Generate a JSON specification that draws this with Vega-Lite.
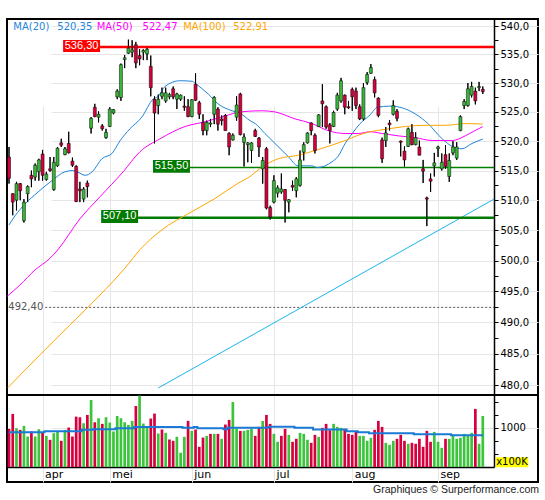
{
  "$schema": "https://vega.github.io/schema/vega-lite/v6.json",
  "width": 531,
  "height": 463,
  "autosize": "none",
  "padding": {"left": 7, "top": 19, "right": 7, "bottom": 18},
  "background": "white",
  "config": {
    "view": {"stroke": "black", "strokeWidth": 2},
    "font": "DejaVu Sans"
  },
  "title": {
    "text": "Graphiques © Surperformance.com",
    "orient": "bottom",
    "anchor": "end",
    "font": "Liberation Sans",
    "fontSize": 10.5,
    "fontWeight": "normal",
    "color": "#222222",
    "offset": 3
  },
  "datasets": {
    "candles": [
      {"i":0,"o":517.3,"h":519.0,"l":512.8,"c":513.7,"v":981,"vd":"down","va":918},
      {"i":1,"o":511.1,"h":511.2,"l":507.5,"c":509.7,"v":1265,"vd":"down","va":918},
      {"i":2,"o":510.0,"h":513.1,"l":508.3,"c":512.8,"v":994,"vd":"up","va":918},
      {"i":3,"o":512.8,"h":512.9,"l":510.0,"c":511.6,"v":962,"vd":"down","va":918},
      {"i":4,"o":506.6,"h":510.2,"l":506.3,"c":509.7,"v":1038,"vd":"up","va":918},
      {"i":5,"o":511.1,"h":512.5,"l":509.7,"c":512.3,"v":836,"vd":"up","va":918},
      {"i":6,"o":514.2,"h":515.0,"l":512.2,"c":513.6,"v":931,"vd":"down","va":918},
      {"i":7,"o":513.9,"h":516.2,"l":513.3,"c":515.9,"v":836,"vd":"up","va":918},
      {"i":8,"o":514.8,"h":517.0,"l":513.3,"c":516.8,"v":975,"vd":"up","va":918},
      {"i":9,"o":517.8,"h":518.5,"l":513.3,"c":514.2,"v":911,"vd":"down","va":918},
      {"i":10,"o":513.5,"h":514.8,"l":513.3,"c":514.4,"v":849,"vd":"up","va":935},
      {"i":11,"o":515.3,"h":517.3,"l":514.8,"c":515.0,"v":773,"vd":"down","va":935},
      {"i":12,"o":511.8,"h":517.3,"l":511.6,"c":516.4,"v":899,"vd":"up","va":935},
      {"i":13,"o":515.8,"h":519.0,"l":515.6,"c":518.8,"v":931,"vd":"up","va":935},
      {"i":14,"o":519.7,"h":520.4,"l":519.0,"c":519.3,"v":754,"vd":"down","va":935},
      {"i":15,"o":517.7,"h":519.0,"l":517.6,"c":518.7,"v":962,"vd":"up","va":935},
      {"i":16,"o":519.6,"h":521.6,"l":517.9,"c":518.0,"v":1006,"vd":"down","va":935},
      {"i":17,"o":516.6,"h":517.2,"l":515.6,"c":515.9,"v":836,"vd":"down","va":935},
      {"i":18,"o":515.7,"h":515.9,"l":509.7,"c":509.8,"v":1214,"vd":"down","va":935},
      {"i":19,"o":511.9,"h":513.1,"l":509.7,"c":511.6,"v":1202,"vd":"down","va":935},
      {"i":20,"o":510.2,"h":512.2,"l":509.7,"c":511.9,"v":1088,"vd":"up","va":962},
      {"i":21,"o":512.9,"h":513.3,"l":510.5,"c":512.3,"v":1246,"vd":"down","va":962},
      {"i":22,"o":522.2,"h":524.1,"l":521.3,"c":523.9,"v":1530,"vd":"up","va":962},
      {"i":23,"o":525.8,"h":526.4,"l":524.1,"c":524.2,"v":1107,"vd":"down","va":975},
      {"i":24,"o":524.1,"h":525.1,"l":523.2,"c":524.6,"v":1183,"vd":"up","va":975},
      {"i":25,"o":522.6,"h":522.9,"l":521.8,"c":522.1,"v":1076,"vd":"down","va":975},
      {"i":26,"o":520.6,"h":522.1,"l":520.4,"c":521.5,"v":1202,"vd":"up","va":975},
      {"i":27,"o":522.5,"h":525.8,"l":522.4,"c":525.5,"v":1101,"vd":"up","va":975},
      {"i":28,"o":524.8,"h":525.5,"l":524.6,"c":525.4,"v":931,"vd":"up","va":975},
      {"i":29,"o":527.6,"h":528.9,"l":527.2,"c":528.6,"v":1227,"vd":"up","va":994},
      {"i":30,"o":527.5,"h":533.4,"l":526.9,"c":533.2,"v":1183,"vd":"up","va":994},
      {"i":31,"o":534.1,"h":534.9,"l":532.6,"c":534.4,"v":1107,"vd":"up","va":994},
      {"i":32,"o":535.2,"h":537.6,"l":535.1,"c":536.1,"v":1057,"vd":"up","va":994},
      {"i":33,"o":535.4,"h":537.5,"l":534.5,"c":535.8,"v":1133,"vd":"up","va":994},
      {"i":34,"o":536.7,"h":537.2,"l":532.6,"c":533.5,"v":1417,"vd":"down","va":1015},
      {"i":35,"o":534.8,"h":535.9,"l":533.1,"c":534.2,"v":1615,"vd":"up","va":1015},
      {"i":36,"o":535.4,"h":535.9,"l":534.0,"c":535.7,"v":1082,"vd":"up","va":1015},
      {"i":37,"o":535.1,"h":536.2,"l":534.0,"c":535.9,"v":1019,"vd":"up","va":1015},
      {"i":38,"o":532.9,"h":534.8,"l":527.7,"c":529.2,"v":1177,"vd":"down","va":1015},
      {"i":39,"o":527.2,"h":527.7,"l":519.6,"c":524.8,"v":1271,"vd":"down","va":1015},
      {"i":40,"o":526.1,"h":528.0,"l":524.6,"c":527.2,"v":893,"vd":"up","va":1015},
      {"i":41,"o":527.7,"h":529.2,"l":527.2,"c":528.3,"v":969,"vd":"down","va":1015},
      {"i":42,"o":526.9,"h":529.2,"l":526.6,"c":528.3,"v":905,"vd":"up","va":1015},
      {"i":43,"o":527.6,"h":528.3,"l":527.2,"c":528.0,"v":779,"vd":"down","va":1015},
      {"i":44,"o":529.0,"h":529.4,"l":527.2,"c":527.6,"v":754,"vd":"down","va":1015},
      {"i":45,"o":527.2,"h":528.3,"l":525.5,"c":528.1,"v":830,"vd":"up","va":1015},
      {"i":46,"o":527.2,"h":528.0,"l":526.9,"c":527.9,"v":527,"vd":"up","va":1015},
      {"i":47,"o":526.0,"h":527.7,"l":525.2,"c":525.8,"v":830,"vd":"up","va":1000},
      {"i":48,"o":525.9,"h":527.2,"l":524.1,"c":524.2,"v":1133,"vd":"down","va":1000},
      {"i":49,"o":524.2,"h":527.2,"l":524.1,"c":527.1,"v":943,"vd":"up","va":1000},
      {"i":50,"o":529.8,"h":531.7,"l":526.9,"c":527.0,"v":969,"vd":"down","va":1015},
      {"i":51,"o":526.6,"h":526.9,"l":523.8,"c":524.6,"v":640,"vd":"down","va":993},
      {"i":52,"o":523.2,"h":524.6,"l":521.0,"c":521.8,"v":816,"vd":"down","va":993},
      {"i":53,"o":521.8,"h":523.5,"l":521.0,"c":523.2,"v":848,"vd":"up","va":993},
      {"i":54,"o":522.9,"h":523.8,"l":522.4,"c":523.1,"v":886,"vd":"down","va":993},
      {"i":55,"o":524.6,"h":527.7,"l":522.9,"c":527.5,"v":886,"vd":"up","va":993},
      {"i":56,"o":525.5,"h":525.8,"l":521.8,"c":522.9,"v":886,"vd":"down","va":993},
      {"i":57,"o":523.8,"h":524.4,"l":522.7,"c":523.5,"v":792,"vd":"up","va":993},
      {"i":58,"o":524.4,"h":524.6,"l":521.8,"c":521.8,"v":1063,"vd":"down","va":975},
      {"i":59,"o":521.3,"h":521.5,"l":517.6,"c":519.0,"v":1152,"vd":"down","va":1000},
      {"i":60,"o":520.2,"h":521.3,"l":520.1,"c":521.0,"v":1492,"vd":"up","va":1000},
      {"i":61,"o":524.1,"h":527.7,"l":523.5,"c":526.2,"v":987,"vd":"up","va":1000},
      {"i":62,"o":528.1,"h":528.3,"l":521.0,"c":521.1,"v":943,"vd":"down","va":1000},
      {"i":63,"o":519.8,"h":521.3,"l":515.7,"c":520.7,"v":943,"vd":"up","va":1000},
      {"i":64,"o":519.4,"h":519.8,"l":516.4,"c":519.7,"v":962,"vd":"up","va":1000},
      {"i":65,"o":518.4,"h":519.8,"l":516.3,"c":519.7,"v":987,"vd":"up","va":1000},
      {"i":66,"o":521.8,"h":522.1,"l":520.7,"c":520.8,"v":848,"vd":"down","va":1000},
      {"i":67,"o":520.5,"h":520.7,"l":517.3,"c":519.0,"v":1019,"vd":"down","va":1000},
      {"i":68,"o":515.3,"h":517.3,"l":512.8,"c":516.7,"v":1133,"vd":"up","va":1000},
      {"i":69,"o":518.7,"h":519.0,"l":508.5,"c":508.7,"v":1246,"vd":"down","va":1000},
      {"i":70,"o":508.8,"h":509.1,"l":506.8,"c":507.2,"v":1076,"vd":"down","va":1019},
      {"i":71,"o":509.7,"h":514.2,"l":509.5,"c":513.3,"v":886,"vd":"up","va":1019},
      {"i":72,"o":511.2,"h":512.5,"l":510.5,"c":512.1,"v":735,"vd":"up","va":1019},
      {"i":73,"o":511.4,"h":514.5,"l":511.1,"c":511.9,"v":848,"vd":"down","va":1019},
      {"i":74,"o":511.8,"h":511.9,"l":506.3,"c":510.0,"v":981,"vd":"down","va":1019},
      {"i":75,"o":509.7,"h":510.2,"l":508.0,"c":510.1,"v":867,"vd":"up","va":1019},
      {"i":76,"o":512.5,"h":513.3,"l":511.6,"c":512.2,"v":735,"vd":"down","va":1019},
      {"i":77,"o":511.6,"h":513.9,"l":510.5,"c":513.6,"v":792,"vd":"down","va":1000},
      {"i":78,"o":512.5,"h":518.4,"l":512.3,"c":516.8,"v":905,"vd":"up","va":1000},
      {"i":79,"o":518.1,"h":519.8,"l":516.7,"c":519.4,"v":886,"vd":"up","va":1000},
      {"i":80,"o":519.7,"h":521.5,"l":519.6,"c":521.4,"v":773,"vd":"up","va":1000},
      {"i":81,"o":523.1,"h":523.2,"l":521.0,"c":521.8,"v":716,"vd":"down","va":1000},
      {"i":82,"o":521.0,"h":521.3,"l":517.9,"c":518.4,"v":867,"vd":"down","va":968},
      {"i":83,"o":522.5,"h":524.6,"l":522.4,"c":524.5,"v":830,"vd":"up","va":968},
      {"i":84,"o":526.9,"h":529.8,"l":522.4,"c":526.4,"v":1000,"vd":"down","va":968},
      {"i":85,"o":525.9,"h":526.1,"l":522.1,"c":522.4,"v":1076,"vd":"down","va":968},
      {"i":86,"o":522.8,"h":523.1,"l":519.6,"c":521.8,"v":956,"vd":"down","va":968},
      {"i":87,"o":522.5,"h":525.2,"l":522.4,"c":524.9,"v":1076,"vd":"up","va":968},
      {"i":88,"o":525.5,"h":528.3,"l":525.2,"c":527.9,"v":1019,"vd":"up","va":968},
      {"i":89,"o":526.9,"h":530.9,"l":526.6,"c":530.4,"v":1000,"vd":"up","va":968},
      {"i":90,"o":527.9,"h":528.0,"l":524.6,"c":525.8,"v":981,"vd":"down","va":968},
      {"i":91,"o":525.9,"h":526.9,"l":525.5,"c":525.7,"v":886,"vd":"down","va":937},
      {"i":92,"o":528.9,"h":529.2,"l":525.2,"c":527.6,"v":867,"vd":"down","va":937},
      {"i":93,"o":528.6,"h":529.2,"l":525.5,"c":526.1,"v":931,"vd":"down","va":937},
      {"i":94,"o":525.9,"h":526.3,"l":523.6,"c":523.8,"v":848,"vd":"up","va":918},
      {"i":95,"o":523.8,"h":530.0,"l":523.5,"c":529.2,"v":848,"vd":"up","va":918},
      {"i":96,"o":530.1,"h":531.9,"l":529.7,"c":531.5,"v":754,"vd":"up","va":918},
      {"i":97,"o":531.7,"h":533.3,"l":531.6,"c":532.7,"v":811,"vd":"up","va":899},
      {"i":98,"o":530.6,"h":531.1,"l":527.5,"c":528.3,"v":962,"vd":"down","va":899},
      {"i":99,"o":527.4,"h":527.5,"l":524.1,"c":524.4,"v":1133,"vd":"down","va":899},
      {"i":100,"o":520.2,"h":520.6,"l":516.3,"c":517.0,"v":1019,"vd":"down","va":899},
      {"i":101,"o":520.1,"h":522.4,"l":519.0,"c":521.4,"v":716,"vd":"up","va":899},
      {"i":102,"o":523.1,"h":523.6,"l":521.8,"c":522.8,"v":678,"vd":"up","va":899},
      {"i":103,"o":524.6,"h":527.0,"l":524.4,"c":526.1,"v":754,"vd":"up","va":899},
      {"i":104,"o":525.1,"h":525.5,"l":523.4,"c":523.9,"v":792,"vd":"down","va":899},
      {"i":105,"o":520.0,"h":520.1,"l":517.4,"c":519.8,"v":867,"vd":"down","va":899},
      {"i":106,"o":518.3,"h":519.1,"l":515.7,"c":516.8,"v":754,"vd":"down","va":899},
      {"i":107,"o":519.1,"h":522.3,"l":519.0,"c":522.1,"v":697,"vd":"up","va":899},
      {"i":108,"o":521.5,"h":522.9,"l":519.3,"c":519.4,"v":716,"vd":"down","va":899},
      {"i":109,"o":519.4,"h":521.5,"l":519.3,"c":520.6,"v":697,"vd":"down","va":880},
      {"i":110,"o":519.0,"h":520.1,"l":517.6,"c":517.6,"v":792,"vd":"down","va":880},
      {"i":111,"o":515.3,"h":516.8,"l":512.9,"c":514.9,"v":640,"vd":"down","va":880},
      {"i":112,"o":510.4,"h":510.6,"l":505.7,"c":510.2,"v":943,"vd":"down","va":880},
      {"i":113,"o":513.6,"h":514.5,"l":511.4,"c":513.2,"v":735,"vd":"down","va":880},
      {"i":114,"o":515.8,"h":518.0,"l":514.0,"c":516.3,"v":924,"vd":"up","va":880},
      {"i":115,"o":518.7,"h":519.2,"l":517.3,"c":519.0,"v":735,"vd":"up","va":880},
      {"i":116,"o":515.3,"h":517.9,"l":515.0,"c":516.4,"v":621,"vd":"up","va":880},
      {"i":117,"o":517.7,"h":519.3,"l":515.3,"c":515.7,"v":792,"vd":"down","va":880},
      {"i":118,"o":514.0,"h":517.9,"l":513.1,"c":516.7,"v":792,"vd":"up","va":880},
      {"i":119,"o":518.0,"h":520.0,"l":517.6,"c":519.0,"v":867,"vd":"up","va":861},
      {"i":120,"o":517.1,"h":519.8,"l":516.8,"c":519.0,"v":792,"vd":"up","va":861},
      {"i":121,"o":521.8,"h":524.4,"l":521.7,"c":524.2,"v":811,"vd":"up","va":861},
      {"i":122,"o":526.1,"h":527.2,"l":525.5,"c":526.8,"v":886,"vd":"up","va":861},
      {"i":123,"o":526.1,"h":530.0,"l":525.9,"c":529.0,"v":848,"vd":"up","va":861},
      {"i":124,"o":527.9,"h":530.2,"l":527.5,"c":529.4,"v":905,"vd":"up","va":861},
      {"i":125,"o":528.6,"h":529.2,"l":526.3,"c":526.9,"v":1360,"vd":"down","va":861},
      {"i":126,"o":529.2,"h":530.2,"l":528.6,"c":529.4,"v":697,"vd":"up","va":861},
      {"i":127,"o":528.9,"h":529.4,"l":528.1,"c":528.5,"v":1227,"vd":"up","va":861}
    ],
    "ma": [
      {"ma":"MA(20)","i":0,"p":505.9},{"ma":"MA(20)","i":1.6,"p":507.4},{"ma":"MA(20)","i":4.3,"p":509.4},
      {"ma":"MA(20)","i":7.8,"p":511.4},{"ma":"MA(20)","i":11.5,"p":513.3},{"ma":"MA(20)","i":15,"p":514.8},
      {"ma":"MA(20)","i":16.9,"p":515.0},{"ma":"MA(20)","i":18.2,"p":514.8},{"ma":"MA(20)","i":20.4,"p":514.2},
      {"ma":"MA(20)","i":22.3,"p":514.8},{"ma":"MA(20)","i":24.9,"p":517.0},{"ma":"MA(20)","i":27.6,"p":517.9},
      {"ma":"MA(20)","i":29.8,"p":520.1},{"ma":"MA(20)","i":32.4,"p":522.1},{"ma":"MA(20)","i":35.6,"p":524.1},
      {"ma":"MA(20)","i":38.6,"p":527.2},{"ma":"MA(20)","i":40,"p":527.7},{"ma":"MA(20)","i":41.8,"p":529.4},
      {"ma":"MA(20)","i":45.8,"p":530.4},{"ma":"MA(20)","i":49.1,"p":530.3},{"ma":"MA(20)","i":50.4,"p":529.7},
      {"ma":"MA(20)","i":53.4,"p":528.1},{"ma":"MA(20)","i":56,"p":526.4},{"ma":"MA(20)","i":59.8,"p":525.2},
      {"ma":"MA(20)","i":61.9,"p":524.8},{"ma":"MA(20)","i":64.6,"p":523.5},{"ma":"MA(20)","i":66,"p":523.0},
      {"ma":"MA(20)","i":68.6,"p":521.3},{"ma":"MA(20)","i":72.1,"p":519.1},{"ma":"MA(20)","i":74.8,"p":517.4},
      {"ma":"MA(20)","i":77.5,"p":515.8},{"ma":"MA(20)","i":81.2,"p":515.8},{"ma":"MA(20)","i":82.6,"p":515.5},
      {"ma":"MA(20)","i":86.6,"p":516.5},{"ma":"MA(20)","i":88.2,"p":517.4},{"ma":"MA(20)","i":90.1,"p":519.6},
      {"ma":"MA(20)","i":92,"p":521.3},{"ma":"MA(20)","i":94.1,"p":523.0},{"ma":"MA(20)","i":96.8,"p":524.5},
      {"ma":"MA(20)","i":98.7,"p":525.8},{"ma":"MA(20)","i":102.1,"p":526.0},{"ma":"MA(20)","i":105.4,"p":525.7},
      {"ma":"MA(20)","i":108.8,"p":524.7},{"ma":"MA(20)","i":112.3,"p":523.0},{"ma":"MA(20)","i":116.1,"p":520.4},
      {"ma":"MA(20)","i":118.8,"p":519.1},{"ma":"MA(20)","i":121.4,"p":518.7},{"ma":"MA(20)","i":124.1,"p":519.6},
      {"ma":"MA(20)","i":127,"p":520.35},
      {"ma":"MA(50)","i":-0.5,"p":494.2},{"ma":"MA(50)","i":2.9,"p":496.0},{"ma":"MA(50)","i":7,"p":498.5},
      {"ma":"MA(50)","i":11,"p":500.4},{"ma":"MA(50)","i":13.1,"p":501.8},{"ma":"MA(50)","i":19,"p":506.9},
      {"ma":"MA(50)","i":24.4,"p":510.6},{"ma":"MA(50)","i":30.6,"p":514.8},{"ma":"MA(50)","i":35.1,"p":518.2},
      {"ma":"MA(50)","i":40.5,"p":520.4},{"ma":"MA(50)","i":47.2,"p":522.5},{"ma":"MA(50)","i":52.5,"p":523.3},
      {"ma":"MA(50)","i":57.9,"p":524.3},{"ma":"MA(50)","i":61.9,"p":525.0},{"ma":"MA(50)","i":67.8,"p":525.2},
      {"ma":"MA(50)","i":71.3,"p":525.0},{"ma":"MA(50)","i":76.7,"p":523.8},{"ma":"MA(50)","i":81.2,"p":523.0},
      {"ma":"MA(50)","i":85.5,"p":521.8},{"ma":"MA(50)","i":90.1,"p":521.3},{"ma":"MA(50)","i":93.6,"p":521.3},
      {"ma":"MA(50)","i":96.8,"p":521.6},{"ma":"MA(50)","i":100,"p":521.3},{"ma":"MA(50)","i":104.3,"p":520.9},
      {"ma":"MA(50)","i":108.8,"p":520.6},{"ma":"MA(50)","i":113.4,"p":520.1},{"ma":"MA(50)","i":118.8,"p":520.1},
      {"ma":"MA(50)","i":122.3,"p":520.9},{"ma":"MA(50)","i":124.9,"p":521.8},{"ma":"MA(50)","i":127,"p":522.47},
      {"ma":"MA(100)","i":-0.3,"p":479.6},{"ma":"MA(100)","i":8.3,"p":484.8},{"ma":"MA(100)","i":16.4,"p":489.6},
      {"ma":"MA(100)","i":24.4,"p":494.4},{"ma":"MA(100)","i":31.1,"p":498.8},{"ma":"MA(100)","i":35.1,"p":501.8},
      {"ma":"MA(100)","i":40.8,"p":505.0},{"ma":"MA(100)","i":49,"p":508.1},{"ma":"MA(100)","i":55.2,"p":510.3},
      {"ma":"MA(100)","i":61.5,"p":512.9},{"ma":"MA(100)","i":64.6,"p":514.0},{"ma":"MA(100)","i":67.8,"p":515.6},
      {"ma":"MA(100)","i":72.2,"p":517.0},{"ma":"MA(100)","i":77.6,"p":517.6},{"ma":"MA(100)","i":82,"p":518.4},
      {"ma":"MA(100)","i":86.5,"p":519.3},{"ma":"MA(100)","i":90.1,"p":520.1},{"ma":"MA(100)","i":93.6,"p":521.0},
      {"ma":"MA(100)","i":96.8,"p":521.6},{"ma":"MA(100)","i":100.8,"p":522.0},{"ma":"MA(100)","i":106.2,"p":522.5},
      {"ma":"MA(100)","i":111.5,"p":522.7},{"ma":"MA(100)","i":116.9,"p":522.7},{"ma":"MA(100)","i":122.3,"p":523.0},
      {"ma":"MA(100)","i":127,"p":522.91}
    ],
    "trend": [
      {"i":40,"p":479.55},
      {"i":130,"p":510.2}
    ]
  },
  "resolve": {"scale": {"y": "independent"}},
  "layer": [
    {
      "layer": [
        {
          "data": {"name": "candles"},
          "mark": {"type": "rule", "color": "black", "strokeWidth": 1},
          "encoding": {
            "x": {"field": "i", "type": "quantitative", "scale": {"domain": [-0.54, 130], "range": [0, 487], "padding": 0, "nice": false, "zero": false}},
            "y": {
              "field": "l", "type": "quantitative",
              "scale": {"type": "log", "domain": [478.45, 541.25], "range": [376, 0], "nice": false},
              "axis": {
                "orient": "right", "offset": -44, "title": null,
                "values": [480,482.5,485,487.5,490,492.5,495,497.5,500,502.5,505,507.5,510,512.5,515,517.5,520,522.5,525,527.5,530,532.5,535,537.5,540],
                "labelExpr": "datum.value % 5 === 0 ? replace(format(datum.value, '.1f'), '.', ',') : ''",
                "labelFont": "DejaVu Sans", "labelFontSize": 10, "labelColor": "black",
                "labelPadding": 2, "labelBaseline": "middle", "labelOverlap": false, "labelFlush": false,
                "tickColor": "black", "tickSize": 4, "domainColor": "black", "domainWidth": 1.5,
                "grid": true, "gridColor": "#e6e6e6", "gridWidth": 1,
                "gridOpacity": {"condition": {"test": "datum.value % 5 === 0", "value": 1}, "value": 0}
              }
            },
            "y2": {"field": "h"}
          }
        },
        {
          "data": {"values": [{}]},
          "mark": {"type": "rule", "color": "#555555", "strokeWidth": 1, "strokeDash": [2, 2]},
          "encoding": {
            "x": {"datum": 9.7, "type": "quantitative", "scale": {"domain": [-0.54, 130], "range": [0, 487], "padding": 0, "nice": false, "zero": false}},
            "x2": {"datum": 130},
            "y": {"datum": 492.4, "type": "quantitative", "scale": {"type": "log", "domain": [478.45, 541.25], "range": [376, 0], "nice": false}}
          }
        },
        {
          "data": {"values": [{}]},
          "mark": {"type": "text", "text": "492,40", "align": "left", "baseline": "middle", "font": "DejaVu Sans", "fontSize": 10, "color": "#555555"},
          "encoding": {
            "x": {"datum": -0.2, "type": "quantitative", "scale": {"domain": [-0.54, 130], "range": [0, 487], "padding": 0, "nice": false, "zero": false}},
            "y": {"datum": 492.4, "type": "quantitative", "scale": {"type": "log", "domain": [478.45, 541.25], "range": [376, 0], "nice": false}}
          }
        },
        {
          "data": {"name": "trend"},
          "mark": {"type": "line", "color": "#19b4ee", "strokeWidth": 1},
          "encoding": {
            "x": {"field": "i", "type": "quantitative", "scale": {"domain": [-0.54, 130], "range": [0, 487], "padding": 0, "nice": false, "zero": false}},
            "y": {"field": "p", "type": "quantitative", "scale": {"type": "log", "domain": [478.45, 541.25], "range": [376, 0], "nice": false}}
          }
        },
        {
          "data": {"values": [{}]},
          "mark": {"type": "rule", "color": "#ff0000", "strokeWidth": 2.5},
          "encoding": {
            "x": {"datum": 24.4, "type": "quantitative", "scale": {"domain": [-0.54, 130], "range": [0, 487], "padding": 0, "nice": false, "zero": false}},
            "x2": {"datum": 130},
            "y": {"datum": 536.3, "type": "quantitative", "scale": {"type": "log", "domain": [478.45, 541.25], "range": [376, 0], "nice": false}}
          }
        },
        {
          "data": {"values": [{}]},
          "mark": {"type": "rule", "color": "#008000", "strokeWidth": 1.5},
          "encoding": {
            "x": {"datum": 48.5, "type": "quantitative", "scale": {"domain": [-0.54, 130], "range": [0, 487], "padding": 0, "nice": false, "zero": false}},
            "x2": {"datum": 130},
            "y": {"datum": 515.5, "type": "quantitative", "scale": {"type": "log", "domain": [478.45, 541.25], "range": [376, 0], "nice": false}}
          }
        },
        {
          "data": {"values": [{}]},
          "mark": {"type": "rule", "color": "#007a00", "strokeWidth": 2.5},
          "encoding": {
            "x": {"datum": 34.6, "type": "quantitative", "scale": {"domain": [-0.54, 130], "range": [0, 487], "padding": 0, "nice": false, "zero": false}},
            "x2": {"datum": 130},
            "y": {"datum": 507.1, "type": "quantitative", "scale": {"type": "log", "domain": [478.45, 541.25], "range": [376, 0], "nice": false}}
          }
        },
        {
          "data": {"name": "ma"},
          "mark": {"type": "line", "strokeWidth": 1, "interpolate": "monotone"},
          "encoding": {
            "x": {"field": "i", "type": "quantitative", "scale": {"domain": [-0.54, 130], "range": [0, 487], "padding": 0, "nice": false, "zero": false}},
            "y": {"field": "p", "type": "quantitative", "scale": {"type": "log", "domain": [478.45, 541.25], "range": [376, 0], "nice": false}},
            "color": {"field": "ma", "type": "nominal", "scale": {"domain": ["MA(20)", "MA(50)", "MA(100)"], "range": ["#1e85dc", "#ff00ff", "#ffa500"]}, "legend": null}
          }
        },
        {
          "data": {"name": "candles"},
          "mark": {"type": "rule", "color": "black", "strokeWidth": 1},
          "encoding": {
            "x": {"field": "i", "type": "quantitative", "scale": {"domain": [-0.54, 130], "range": [0, 487], "padding": 0, "nice": false, "zero": false}},
            "y": {"field": "l", "type": "quantitative", "scale": {"type": "log", "domain": [478.45, 541.25], "range": [376, 0], "nice": false}},
            "y2": {"field": "h"}
          }
        },
        {
          "data": {"name": "candles"},
          "mark": {"type": "bar", "width": 3, "stroke": "black", "strokeWidth": 0.5},
          "encoding": {
            "x": {"field": "i", "type": "quantitative", "scale": {"domain": [-0.54, 130], "range": [0, 487], "padding": 0, "nice": false, "zero": false}},
            "y": {"field": "o", "type": "quantitative", "scale": {"type": "log", "domain": [478.45, 541.25], "range": [376, 0], "nice": false}},
            "y2": {"field": "c"},
            "color": {"condition": {"test": "datum.c >= datum.o", "value": "#38b838"}, "value": "#d4003c"}
          }
        },
        {
          "data": {"values": [{}]},
          "mark": {"type": "rect", "color": "#ff0000"},
          "encoding": {
            "x": {"datum": 14.5, "type": "quantitative", "scale": {"domain": [-0.54, 130], "range": [0, 487], "padding": 0, "nice": false, "zero": false}},
            "x2": {"datum": 24.4},
            "y": {"datum": 535.42, "type": "quantitative", "scale": {"type": "log", "domain": [478.45, 541.25], "range": [376, 0], "nice": false}},
            "y2": {"datum": 537.53}
          }
        },
        {
          "data": {"values": [{}]},
          "mark": {"type": "rect", "color": "#007a00"},
          "encoding": {
            "x": {"datum": 38.6, "type": "quantitative", "scale": {"domain": [-0.54, 130], "range": [0, 487], "padding": 0, "nice": false, "zero": false}},
            "x2": {"datum": 48.5},
            "y": {"datum": 514.64, "type": "quantitative", "scale": {"type": "log", "domain": [478.45, 541.25], "range": [376, 0], "nice": false}},
            "y2": {"datum": 516.79}
          }
        },
        {
          "data": {"values": [{}]},
          "mark": {"type": "rect", "color": "#007a00"},
          "encoding": {
            "x": {"datum": 24.7, "type": "quantitative", "scale": {"domain": [-0.54, 130], "range": [0, 487], "padding": 0, "nice": false, "zero": false}},
            "x2": {"datum": 34.6},
            "y": {"datum": 506.22, "type": "quantitative", "scale": {"type": "log", "domain": [478.45, 541.25], "range": [376, 0], "nice": false}},
            "y2": {"datum": 508.38}
          }
        },
        {
          "data": {"values": [{}]},
          "mark": {"type": "text", "text": "536,30", "align": "center", "baseline": "middle", "font": "Liberation Sans", "fontSize": 11, "color": "white"},
          "encoding": {
            "x": {"datum": 19.45, "type": "quantitative", "scale": {"domain": [-0.54, 130], "range": [0, 487], "padding": 0, "nice": false, "zero": false}},
            "y": {"datum": 536.45, "type": "quantitative", "scale": {"type": "log", "domain": [478.45, 541.25], "range": [376, 0], "nice": false}}
          }
        },
        {
          "data": {"values": [{}]},
          "mark": {"type": "text", "text": "515,50", "align": "center", "baseline": "middle", "font": "Liberation Sans", "fontSize": 11, "color": "white"},
          "encoding": {
            "x": {"datum": 43.55, "type": "quantitative", "scale": {"domain": [-0.54, 130], "range": [0, 487], "padding": 0, "nice": false, "zero": false}},
            "y": {"datum": 515.72, "type": "quantitative", "scale": {"type": "log", "domain": [478.45, 541.25], "range": [376, 0], "nice": false}}
          }
        },
        {
          "data": {"values": [{}]},
          "mark": {"type": "text", "text": "507,10", "align": "center", "baseline": "middle", "font": "Liberation Sans", "fontSize": 11, "color": "white"},
          "encoding": {
            "x": {"datum": 29.65, "type": "quantitative", "scale": {"domain": [-0.54, 130], "range": [0, 487], "padding": 0, "nice": false, "zero": false}},
            "y": {"datum": 507.3, "type": "quantitative", "scale": {"type": "log", "domain": [478.45, 541.25], "range": [376, 0], "nice": false}}
          }
        },
        {
          "data": {"values": [{}]},
          "mark": {"type": "text", "text": "MA(20)", "align": "left", "baseline": "middle", "font": "DejaVu Sans", "fontSize": 10, "color": "#1e85dc"},
          "encoding": {
            "x": {"datum": 1.15, "type": "quantitative", "scale": {"domain": [-0.54, 130], "range": [0, 487], "padding": 0, "nice": false, "zero": false}},
            "y": {"datum": 539.8, "type": "quantitative", "scale": {"type": "log", "domain": [478.45, 541.25], "range": [376, 0], "nice": false}}
          }
        },
        {
          "data": {"values": [{}]},
          "mark": {"type": "text", "text": "520,35", "align": "left", "baseline": "middle", "font": "DejaVu Sans", "fontSize": 10, "color": "#1e85dc"},
          "encoding": {
            "x": {"datum": 12.95, "type": "quantitative", "scale": {"domain": [-0.54, 130], "range": [0, 487], "padding": 0, "nice": false, "zero": false}},
            "y": {"datum": 539.8, "type": "quantitative", "scale": {"type": "log", "domain": [478.45, 541.25], "range": [376, 0], "nice": false}}
          }
        },
        {
          "data": {"values": [{}]},
          "mark": {"type": "text", "text": "MA(50)", "align": "left", "baseline": "middle", "font": "DejaVu Sans", "fontSize": 10, "color": "#ff00ff"},
          "encoding": {
            "x": {"datum": 23.5, "type": "quantitative", "scale": {"domain": [-0.54, 130], "range": [0, 487], "padding": 0, "nice": false, "zero": false}},
            "y": {"datum": 539.8, "type": "quantitative", "scale": {"type": "log", "domain": [478.45, 541.25], "range": [376, 0], "nice": false}}
          }
        },
        {
          "data": {"values": [{}]},
          "mark": {"type": "text", "text": "522,47", "align": "left", "baseline": "middle", "font": "DejaVu Sans", "fontSize": 10, "color": "#ff00ff"},
          "encoding": {
            "x": {"datum": 35.8, "type": "quantitative", "scale": {"domain": [-0.54, 130], "range": [0, 487], "padding": 0, "nice": false, "zero": false}},
            "y": {"datum": 539.8, "type": "quantitative", "scale": {"type": "log", "domain": [478.45, 541.25], "range": [376, 0], "nice": false}}
          }
        },
        {
          "data": {"values": [{}]},
          "mark": {"type": "text", "text": "MA(100)", "align": "left", "baseline": "middle", "font": "DejaVu Sans", "fontSize": 10, "color": "#ffa500"},
          "encoding": {
            "x": {"datum": 46.7, "type": "quantitative", "scale": {"domain": [-0.54, 130], "range": [0, 487], "padding": 0, "nice": false, "zero": false}},
            "y": {"datum": 539.8, "type": "quantitative", "scale": {"type": "log", "domain": [478.45, 541.25], "range": [376, 0], "nice": false}}
          }
        },
        {
          "data": {"values": [{}]},
          "mark": {"type": "text", "text": "522,91", "align": "left", "baseline": "middle", "font": "DejaVu Sans", "fontSize": 10, "color": "#ffa500"},
          "encoding": {
            "x": {"datum": 60.1, "type": "quantitative", "scale": {"domain": [-0.54, 130], "range": [0, 487], "padding": 0, "nice": false, "zero": false}},
            "y": {"datum": 539.8, "type": "quantitative", "scale": {"type": "log", "domain": [478.45, 541.25], "range": [376, 0], "nice": false}}
          }
        },
        {
          "data": {"values": [{}]},
          "mark": {"type": "rule", "color": "black", "strokeWidth": 2},
          "encoding": {
            "y": {"datum": 478.45, "type": "quantitative", "scale": {"type": "log", "domain": [478.45, 541.25], "range": [376, 0], "nice": false}}
          }
        }
      ]
    },
    {
      "layer": [
        {
          "data": {"name": "candles"},
          "mark": {"type": "bar", "width": 2.7},
          "encoding": {
            "x": {
              "field": "i", "type": "quantitative",
              "scale": {"domain": [-0.54, 130], "range": [0, 487], "padding": 0, "nice": false, "zero": false},
              "axis": {
                "orient": "bottom", "offset": -15, "title": null,
                "values": [9, 27, 49, 71, 92, 115],
                "labelExpr": "['apr','mei','jun','jul','aug','sep'][indexof([9,27,49,71,92,115], datum.value)]",
                "labelAlign": "left", "labelOffset": 2, "labelBaseline": "middle", "labelPadding": 7,
                "labelFont": "DejaVu Sans", "labelFontSize": 11, "labelColor": "black",
                "ticks": false, "tickSize": 0,
                "domainColor": "black", "domainWidth": 1.5,
                "grid": true, "gridColor": "#e6e6e6", "gridWidth": 1
              }
            },
            "y": {
              "field": "v", "type": "quantitative",
              "scale": {"domain": [256, 1625], "range": [448, 376], "nice": false, "zero": false},
              "axis": {
                "orient": "right", "offset": -44, "title": null,
                "values": [500, 750, 1000, 1250, 1500],
                "labelExpr": "datum.value === 1000 ? '1000' : ''",
                "labelFont": "DejaVu Sans", "labelFontSize": 10, "labelColor": "black",
                "labelPadding": 2, "labelBaseline": "middle", "labelOverlap": false, "labelFlush": false,
                "tickColor": "black", "tickSize": 4, "domainColor": "black", "domainWidth": 1.5,
                "grid": true, "gridColor": "#e6e6e6", "gridWidth": 1,
                "gridOpacity": {"condition": {"test": "datum.value === 1000", "value": 1}, "value": 0}
              }
            },
            "y2": {"datum": 256},
            "color": {"condition": {"test": "datum.vd === 'up'", "value": "#3cc43c"}, "value": "#d6003e"}
          }
        },
        {
          "data": {"name": "candles"},
          "mark": {"type": "line", "color": "#1a7ad6", "strokeWidth": 2, "interpolate": "step"},
          "encoding": {
            "x": {"field": "i", "type": "quantitative", "scale": {"domain": [-0.54, 130], "range": [0, 487], "padding": 0, "nice": false, "zero": false}},
            "y": {"field": "va", "type": "quantitative", "scale": {"domain": [256, 1625], "range": [448, 376], "nice": false, "zero": false}}
          }
        },
        {
          "data": {"values": [{}]},
          "mark": {"type": "rect", "color": "#ffff00"},
          "encoding": {
            "x": {"datum": 130.46, "type": "quantitative", "scale": {"domain": [-0.54, 130], "range": [0, 487], "padding": 0, "nice": false, "zero": false}},
            "x2": {"datum": 139.2},
            "y": {"datum": 250.3, "type": "quantitative", "scale": {"domain": [256, 1625], "range": [448, 376], "nice": false, "zero": false}},
            "y2": {"datum": 440.4}
          }
        },
        {
          "data": {"values": [{}]},
          "mark": {"type": "text", "text": "x100K", "align": "center", "baseline": "middle", "font": "DejaVu Sans", "fontSize": 10, "color": "black"},
          "encoding": {
            "x": {"datum": 134.8, "type": "quantitative", "scale": {"domain": [-0.54, 130], "range": [0, 487], "padding": 0, "nice": false, "zero": false}},
            "y": {"datum": 345, "type": "quantitative", "scale": {"domain": [256, 1625], "range": [448, 376], "nice": false, "zero": false}}
          }
        }
      ]
    }
  ]
}
